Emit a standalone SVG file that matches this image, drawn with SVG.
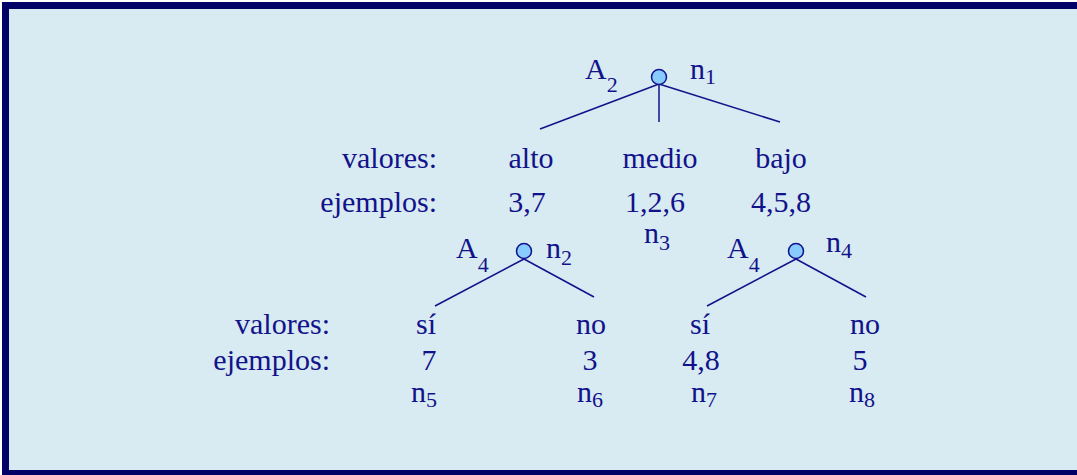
<svg xmlns="http://www.w3.org/2000/svg" width="1077" height="475" viewBox="0 0 1077 475">
<style>
text{font-family:"Liberation Serif","Times New Roman",serif;font-size:30px;fill:#12128a}
.sub{font-size:22px}
.e{text-anchor:end}
.m{text-anchor:middle}
.node{fill:#88ccff;stroke:#12128a;stroke-width:1.5}
.edge{stroke:#12128a;stroke-width:1.5;fill:none}
</style>
<rect x="5.5" y="5.5" width="1100" height="468" fill="#d8eaf2" stroke="#000066" stroke-width="7"/>
<g id="connectors">
<line class="edge" x1="659" y1="84" x2="540" y2="129"/>
<line class="edge" x1="659" y1="84" x2="659" y2="122"/>
<line class="edge" x1="659" y1="84" x2="780" y2="122"/>
<line class="edge" x1="524" y1="259" x2="435" y2="306"/>
<line class="edge" x1="524" y1="259" x2="594" y2="297"/>
<line class="edge" x1="796" y1="259" x2="707" y2="306"/>
<line class="edge" x1="796" y1="259" x2="866" y2="297"/>
</g>
<g id="n1">
<circle class="node" cx="659" cy="77" r="7.5"/>
<text x="585" y="79">A<tspan class="sub" dy="13">2</tspan></text>
<text x="690" y="79">n<tspan class="sub" dy="5">1</tspan></text>
</g>
<g id="level1-labels">
<text class="e" x="437" y="168">valores:</text>
<text class="m" x="531" y="168">alto</text>
<text class="m" x="660" y="168">medio</text>
<text class="m" x="781" y="168">bajo</text>
<text class="e" x="437" y="212">ejemplos:</text>
<text class="m" x="527" y="212">3,7</text>
<text class="m" x="655" y="212">1,2,6</text>
<text class="m" x="781" y="212">4,5,8</text>
</g>
<g id="n3">
<text x="644" y="243">n<tspan class="sub" dy="7">3</tspan></text>
</g>
<g id="n2">
<circle class="node" cx="524" cy="251" r="7.5"/>
<text x="456" y="258">A<tspan class="sub" dy="14">4</tspan></text>
<text x="546" y="258">n<tspan class="sub" dy="7">2</tspan></text>
</g>
<g id="n4">
<circle class="node" cx="796" cy="251" r="7.5"/>
<text x="727" y="258">A<tspan class="sub" dy="14">4</tspan></text>
<text x="826" y="252">n<tspan class="sub" dy="6">4</tspan></text>
</g>
<g id="level2-labels">
<text class="e" x="330" y="334">valores:</text>
<text class="m" x="426" y="334">sí</text>
<text class="m" x="591" y="334">no</text>
<text class="m" x="700" y="334">sí</text>
<text class="m" x="865" y="334">no</text>
<text class="e" x="330" y="370">ejemplos:</text>
<text class="m" x="429" y="370">7</text>
<text class="m" x="590" y="370">3</text>
<text class="m" x="701" y="370">4,8</text>
<text class="m" x="860" y="370">5</text>
</g>
<g id="n5"><text x="411" y="402">n<tspan class="sub" dy="5">5</tspan></text></g>
<g id="n6"><text x="577" y="402">n<tspan class="sub" dy="5">6</tspan></text></g>
<g id="n7"><text x="691" y="402">n<tspan class="sub" dy="5">7</tspan></text></g>
<g id="n8"><text x="849" y="402">n<tspan class="sub" dy="5">8</tspan></text></g>
</svg>
